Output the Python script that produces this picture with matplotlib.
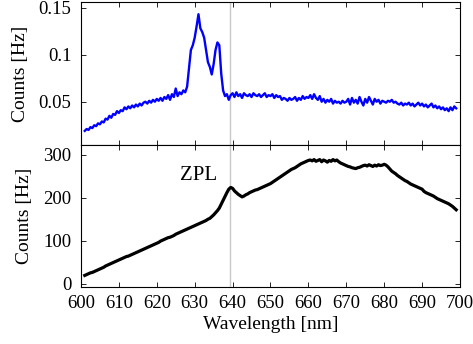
import numpy as np
import matplotlib
matplotlib.use("Agg")
import matplotlib.pyplot as plt

plt.rcParams['font.family'] = ['Liberation Serif', 'DejaVu Serif']
plt.rcParams['mathtext.fontset'] = 'stix'

wavelength = np.arange(601.0, 699.25, 0.5)

counts_top = [
    0.019, 0.021, 0.020, 0.023, 0.022, 0.025, 0.024, 0.027, 0.026, 0.029,
    0.028, 0.032, 0.031, 0.035, 0.033, 0.037, 0.036, 0.040, 0.038, 0.041,
    0.040, 0.044, 0.042, 0.045, 0.043, 0.046, 0.044, 0.047, 0.045, 0.048,
    0.046, 0.049, 0.050, 0.048, 0.051, 0.049, 0.052, 0.050, 0.053, 0.051,
    0.054, 0.051, 0.055, 0.053, 0.057, 0.052, 0.058, 0.055, 0.064, 0.056,
    0.060, 0.058, 0.062, 0.060,
    0.066, 0.085, 0.105, 0.110, 0.118, 0.130, 0.143, 0.128, 0.124, 0.118,
    0.105, 0.092, 0.087, 0.079, 0.090, 0.105, 0.113, 0.110, 0.080, 0.062,
    0.056, 0.058, 0.052, 0.057,
    0.059, 0.055, 0.060, 0.056, 0.058, 0.054, 0.059, 0.057, 0.056, 0.058,
    0.055, 0.059, 0.057, 0.056, 0.058, 0.055, 0.057, 0.059, 0.055, 0.057,
    0.056, 0.058, 0.054, 0.057, 0.055, 0.056, 0.052, 0.054, 0.053, 0.051,
    0.054, 0.052, 0.053, 0.055, 0.051, 0.054, 0.052, 0.056, 0.053, 0.055,
    0.054, 0.057, 0.053, 0.058, 0.054, 0.052, 0.056, 0.050, 0.053, 0.049,
    0.052, 0.050, 0.053, 0.048, 0.051, 0.049, 0.050, 0.048, 0.051, 0.049,
    0.050, 0.053, 0.047, 0.054, 0.049, 0.052, 0.048, 0.055, 0.050, 0.046,
    0.053, 0.049, 0.055, 0.051, 0.047, 0.053, 0.050, 0.052, 0.048, 0.051,
    0.050, 0.049, 0.051, 0.050, 0.052, 0.049, 0.050, 0.048, 0.047, 0.049,
    0.046, 0.048, 0.047, 0.049, 0.046, 0.048, 0.045, 0.047, 0.049, 0.046,
    0.048, 0.045, 0.047, 0.044, 0.046, 0.048, 0.044, 0.046, 0.043, 0.045,
    0.042, 0.044, 0.041, 0.043, 0.040, 0.044, 0.041, 0.045, 0.043,
]

counts_bottom = [
    19, 21, 23, 25, 26, 28, 30, 32, 34, 36, 38, 41, 43, 45, 47, 49, 51, 53, 55, 57,
    59, 61, 63, 64, 66, 68, 70, 72, 74, 76, 78, 80, 82, 84, 86, 88, 90, 92, 94, 96,
    99, 101, 103, 105, 107, 108, 110, 112, 115, 117, 119, 121, 123, 125, 127, 129, 131, 133, 135, 137,
    139, 141, 143, 145, 147, 150, 152, 156, 160, 165, 170, 176, 185, 194, 203, 212, 220, 224,
    222, 216, 212, 208, 205, 202, 204, 207, 209, 212, 214, 216, 218, 219, 221, 223, 225, 227, 229, 231,
    233, 236, 239, 242, 245, 248, 251, 254, 257, 260, 263, 266, 268, 270, 273, 276, 279, 281, 283, 285,
    287, 288, 286, 289, 285, 287, 289, 284, 288, 286, 283, 287, 285, 289, 286, 288, 284, 281, 279, 277,
    275, 273, 272, 270, 269, 268, 270, 271, 273, 275, 276, 274, 277, 275, 273, 276, 274, 277, 275, 276,
    278, 276, 272, 267, 262, 259, 256, 252, 249, 246, 243, 240, 238, 235, 232, 230, 228, 226, 224, 222,
    220, 215, 212, 210, 208, 206, 204, 201, 198, 196, 194, 192, 190, 188, 186, 183, 180, 176, 172,
]

zpl_position = 639.2
x_ticks = [600, 610, 620, 630, 640, 650, 660, 670, 680, 690, 700]
top_yticks = [0.05, 0.1, 0.15]
top_yticklabels = ["0.05", "0.1", "0.15"]
bottom_yticks = [0, 100, 200, 300]

fig = plt.figure(figsize=(4.73, 3.44), dpi=100)
ax1 = fig.add_axes([0.1712, 0.5785, 0.8013, 0.4157])
ax2 = fig.add_axes([0.1712, 0.1657, 0.8013, 0.4128])

fs = 13.5
for ax in (ax1, ax2):
    ax.axvline(zpl_position, color='#c8c8c8', lw=1.0, zorder=1)
    ax.set_xlim(600, 700)
    ax.set_xticks(x_ticks)
    ax.tick_params(direction='in', length=3.5, width=0.6, top=True, right=True,
                   labelsize=fs, colors='black')
    ax.tick_params(axis='y', pad=7)
    ax.tick_params(axis='x', pad=6)
    for s in ax.spines.values():
        s.set_linewidth(0.8)

ax1.plot(wavelength, counts_top, color='#0000ff', lw=1.7, zorder=3)
ax1.set_ylim(0.004, 0.156)
ax1.set_yticks(top_yticks)
ax1.set_yticklabels(top_yticklabels)
ax1.tick_params(labelbottom=False)
ax1.set_ylabel("Counts [Hz]", fontsize=14, labelpad=7)

ax2.plot(wavelength, counts_bottom, color='black', lw=2.3, zorder=3)
ax2.set_ylim(-8, 323)
ax2.set_yticks(bottom_yticks)
ax2.set_ylabel("Counts [Hz]", fontsize=14, labelpad=7)
ax2.set_xlabel("Wavelength [nm]", fontsize=14, labelpad=3)
ax2.text(631, 253, "ZPL", fontsize=15, ha='center', va='center')

fig.align_ylabels([ax1, ax2])
fig.savefig("out.png", dpi=100)
